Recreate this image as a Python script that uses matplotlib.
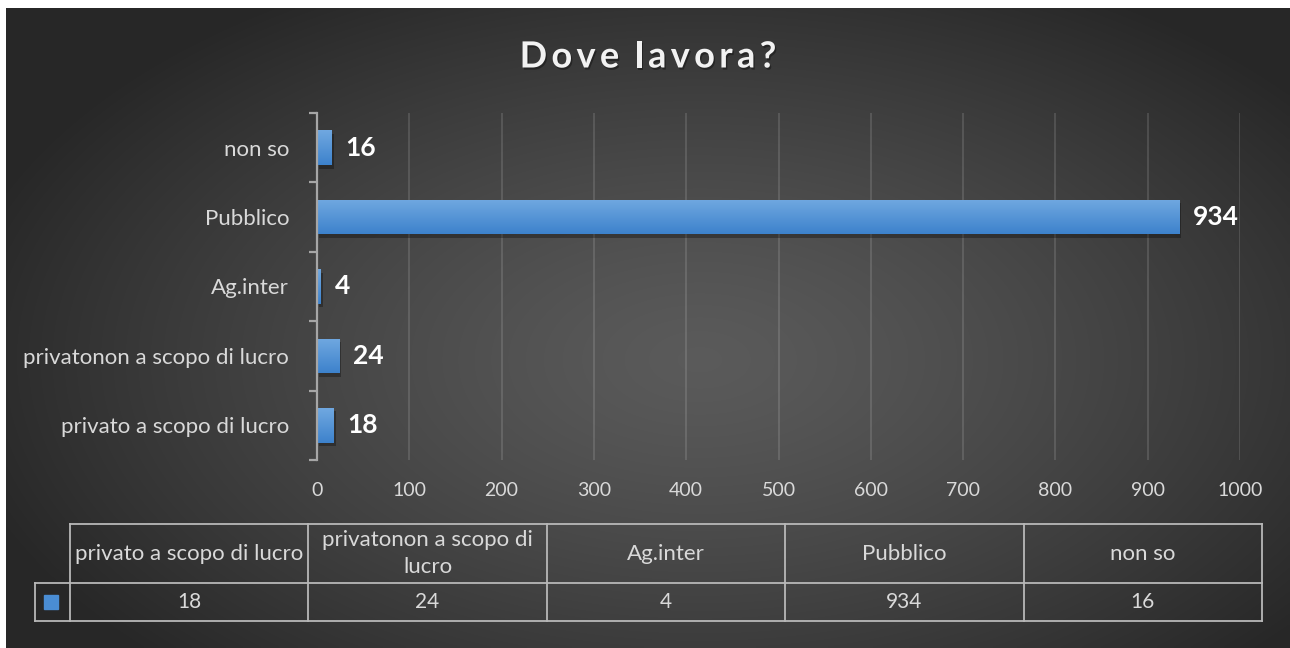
import textwrap
import numpy as np
import matplotlib
matplotlib.use("Agg")
import matplotlib.pyplot as plt
from matplotlib import patheffects as pe

# ---- data ----
categories = ["privato a scopo di lucro", "privatonon a scopo di lucro", "Ag.inter", "Pubblico", "non so"]
values = [18, 24, 4, 934, 16]
x_ticks = [0, 100, 200, 300, 400, 500, 600, 700, 800, 900, 1000]
title = "Dove lavora?"

FONT = ["Lato", "DejaVu Sans"]
plt.rcParams["font.family"] = FONT

W, H = 1290, 648
fig = plt.figure(figsize=(W / 100, H / 100), dpi=100, facecolor="white")
renderer = fig.canvas.get_renderer()

# overlay axes in pixel coordinates (background + table + title)
ov = fig.add_axes([0, 0, 1, 1])
ov.set_xlim(0, W)
ov.set_ylim(H, 0)
ov.axis("off")
ov.set_zorder(0)

# radial background gradient
gx = np.linspace(6, W, 400)
gy = np.linspace(8, H, 200)
GX, GY = np.meshgrid(gx, gy)
r = np.sqrt(((GX - 700) / 760) ** 2 + ((GY - 360) / 430) ** 2)
r = np.clip(r, 0, 1)
val = 0.355 - 0.20 * r ** 1.3
img = np.dstack([val, val, val])
ov.imshow(img, extent=[6, W, H, 8], aspect="auto", interpolation="bilinear", zorder=0)

# title with letter spacing
title_kw = dict(fontsize=26, fontweight="bold", color="#f2f2f2", family=FONT)
spacing = 4.3
def char_w(ch):
    if ch == " ":
        a = ov.text(0, 0, "a a", **title_kw); b = ov.text(0, 0, "aa", **title_kw)
        w = a.get_window_extent(renderer).width - b.get_window_extent(renderer).width
        a.remove(); b.remove()
        return w * 0.8
    t = ov.text(0, 0, ch, **title_kw)
    w = t.get_window_extent(renderer).width
    t.remove()
    return w
widths = [char_w(c) for c in title]
total = sum(widths) + spacing * (len(title) - 1)
x = 648 - total / 2
for c, w in zip(title, widths):
    if c != " ":
        ov.text(x, 57, c, ha="left", va="center", zorder=5,
                path_effects=[pe.SimplePatchShadow(offset=(1, -1.5), shadow_rgbFace="black", alpha=0.35), pe.Normal()],
                **title_kw)
    x += w + spacing

# ---- main bar axes ----
L, R, T, B = 317, 1240, 113, 460
ax = fig.add_axes([L / W, 1 - B / H, (R - L) / W, (B - T) / H])
ax.set_zorder(1)
ax.patch.set_alpha(0)

ypos = np.arange(len(categories))
bars = ax.barh(ypos, values, height=0.5, color="#4a8dd4", zorder=3,
               path_effects=[pe.SimplePatchShadow(offset=(1.5, -2.5), shadow_rgbFace="black", alpha=0.3), pe.Normal()])

# gradient fill on bars
grad = np.linspace(0, 1, 64).reshape(-1, 1)
top_c = np.array([0.44, 0.66, 0.88])
bot_c = np.array([0.24, 0.51, 0.80])
gimg = top_c * (1 - grad[..., None]) + bot_c * grad[..., None]
gimg = np.repeat(gimg, 2, axis=1)
for b in bars:
    x0, y0, w, h = b.get_x(), b.get_y(), b.get_width(), b.get_height()
    im = ax.imshow(gimg, extent=[x0, x0 + w, y0, y0 + h], aspect="auto", zorder=4,
                   origin="upper", interpolation="bilinear")
    im.set_clip_path(b)

ax.set_xlim(0, 1000)
ax.set_ylim(-0.5, len(categories) - 0.5)

for b, v in zip(bars, values):
    ax.annotate(str(v), (b.get_width(), b.get_y() + b.get_height() / 2),
                xytext=(10, 0), textcoords="offset points", va="center", ha="left",
                color="white", fontsize=19, fontweight="bold", zorder=5)

ax.set_xticks(x_ticks)
ax.set_xticklabels([str(t) for t in x_ticks])
ax.set_yticks(ypos)
ax.set_yticklabels(categories)
ax.set_yticks(np.arange(-0.5, len(categories)), minor=True)
ax.tick_params(axis="y", which="major", length=0, pad=20, labelsize=16, labelcolor="#d9d9d9")
ax.tick_params(axis="y", which="minor", length=6, width=1.6, color="#a6a6a6", direction="out")
ax.tick_params(axis="x", length=0, pad=16, labelsize=14, labelcolor="#d9d9d9")
for s in ["top", "right", "bottom"]:
    ax.spines[s].set_visible(False)
ax.spines["left"].set_color("#a6a6a6")
ax.spines["left"].set_linewidth(1.6)
ax.spines["left"].set_zorder(6)
ax.grid(axis="x", color="white", alpha=0.13, linewidth=1.4, zorder=1)
ax.set_axisbelow(True)

# ---- data table ----
lc = "#b8b8b8"
lw = 1.3
tx0, tx1 = 70, 1262
ty0, ty1, ty2 = 524, 583, 621
kx0 = 35
ncol = len(categories)
edges = np.linspace(tx0, tx1, ncol + 1)
ov.plot([tx0, tx1], [ty0, ty0], color=lc, lw=lw, zorder=2)
ov.plot([kx0, tx1], [ty1, ty1], color=lc, lw=lw, zorder=2)
ov.plot([kx0, tx1], [ty2, ty2], color=lc, lw=lw, zorder=2)
ov.plot([kx0, kx0], [ty1, ty2], color=lc, lw=lw, zorder=2)
for e in edges:
    ov.plot([e, e], [ty0, ty2], color=lc, lw=lw, zorder=2)
for i, (c, v) in enumerate(zip(categories, values)):
    cx = (edges[i] + edges[i + 1]) / 2
    ov.text(cx, (ty0 + ty1) / 2, textwrap.fill(c, 24), ha="center", va="center",
            color="#d9d9d9", fontsize=16, linespacing=1.4, zorder=3)
    ov.text(cx, (ty1 + ty2) / 2, str(v), ha="center", va="center",
            color="#d9d9d9", fontsize=15, zorder=3)
# legend key
ov.add_patch(plt.Rectangle((44, 595), 14, 14, color="#4a8dd4", zorder=3))

fig.savefig("out.png", dpi=100, facecolor=fig.get_facecolor())
